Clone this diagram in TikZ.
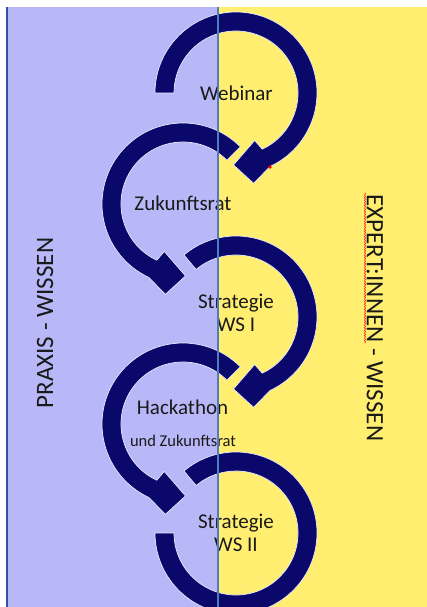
\documentclass[tikz,border=0pt]{standalone}
\usepackage{fontspec}
\setmainfont{Carlito}
\usetikzlibrary{decorations.pathmorphing}
\definecolor{lav}{RGB}{184,184,248}
\definecolor{yel}{RGB}{255,238,112}
\definecolor{navy}{RGB}{10,8,106}
\definecolor{midline}{RGB}{84,122,190}
\definecolor{leftline}{RGB}{52,80,160}
\definecolor{txt}{RGB}{25,25,25}
\begin{document}
\begin{tikzpicture}[x=1pt,y=1pt,
  carrow/.style={fill=navy, draw=white!92!blue, line width=0.7pt, line join=miter},
  lbl/.style={font=\fontsize{21}{23}\selectfont, text=txt, inner sep=0pt, align=center},
  side/.style={font=\fontsize{25}{30}\selectfont, text=txt, inner sep=0pt}]
\useasboundingbox (0,0) rectangle (427,-607);
\fill[white] (0,0) rectangle (427,-607);
\fill[lav] (7,-7) rectangle (218,-607);
\fill[yel] (218,-7) rectangle (427,-607);
\begin{scope}
\clip (0,0) rectangle (427,-607);
% arrow 1 (Webinar), clockwise
\path[carrow, shift={(236,-93)}] (180:81) arc[start angle=180, end angle=-65, radius=81]
  -- (-79:92) -- (-92:72) -- (-68.5:51) -- (-65:62)
  arc[start angle=-65, end angle=180, radius=62] -- cycle;
% arrow 2 (Zukunftsrat), counter-clockwise
\path[carrow, shift={(183,-204)}] (45:81) arc[start angle=45, end angle=245, radius=81]
  -- (259:92) -- (272:72) -- (248.5:51) -- (245:62)
  arc[start angle=245, end angle=45, radius=62] -- cycle;
% arrow 3 (Strategie WS I), clockwise
\path[carrow, shift={(236,-317)}] (130:81) arc[start angle=130, end angle=-65, radius=81]
  -- (-79:92) -- (-92:72) -- (-68.5:51) -- (-65:62)
  arc[start angle=-65, end angle=130, radius=62] -- cycle;
% arrow 4 (Hackathon), counter-clockwise
\path[carrow, shift={(183,-424)}] (45:81) arc[start angle=45, end angle=245, radius=81]
  -- (259:92) -- (272:72) -- (248.5:51) -- (245:62)
  arc[start angle=245, end angle=45, radius=62] -- cycle;
% arc 5 (Strategie WS II)
\path[carrow, shift={(236,-533)}] (130:81) arc[start angle=130, end angle=-180, radius=81]
  -- (180:62) arc[start angle=-180, end angle=130, radius=62] -- cycle;
\end{scope}
% labels
\node[lbl, anchor=base] (webinar) at (236.5,-101) {Webinar};
\node[lbl, anchor=base] (zukunft) at (183,-210) {Zukunftsrat};
\node[lbl] (ws1) at (236,-313) {Strategie\\WS I};
\node[lbl, anchor=base] (hack) at (182.5,-414) {Hackathon};
\node[lbl, anchor=base, font=\fontsize{16.5}{19}\selectfont] (undz) at (183,-446) {und Zukunftsrat};
\node[lbl] (ws2) at (236,-533) {Strategie\\WS II};
\node[side, rotate=90] (praxis) at (45,-323) {PRAXIS - WISSEN};
\node[side, rotate=-90] (expert) at (375,-318) {EXPERT:INNEN - WISSEN};
% spell-check squiggle and dot
\draw[red!85!white, line width=0.6pt, decorate, decoration={snake, amplitude=0.7pt, segment length=2.6pt}] (365,-193) -- (365,-343);
\fill[red] (270,-167) circle (1.8);
% vertical lines
\draw[midline, line width=1.2pt] (218,-7) -- (218,-607);
\draw[leftline, line width=2pt] (6.5,-7) -- (6.5,-607);
\end{tikzpicture}
\end{document}
